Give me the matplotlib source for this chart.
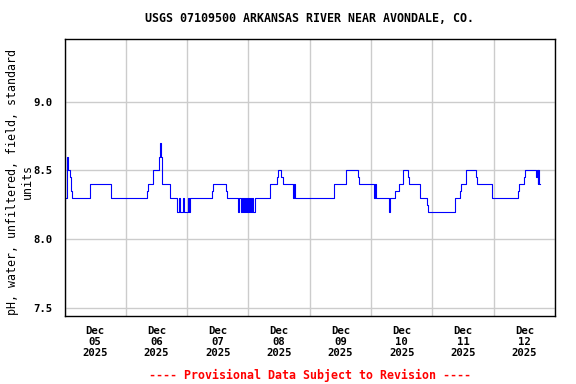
import matplotlib
matplotlib.use("Agg")
import matplotlib.pyplot as plt
import matplotlib.dates as mdates
import pandas as pd

# pH readings: hours after Dec 05 2025 00:00 where the value changes, and the value from then on
hours = [0.0, 1.0, 1.5, 2.0, 2.4, 2.8, 10.1, 18.2, 32.4, 32.8, 34.8, 37.1, 37.5, 37.9, 38.3,
         41.3, 44.0, 44.9, 45.4, 46.5, 46.9, 48.3, 48.7, 49.2, 57.7, 58.1, 63.3, 63.7,
         68.1, 68.5, 68.9, 69.3, 69.7, 70.1, 70.5, 70.9, 71.3, 71.7, 72.1, 72.5, 72.9,
         73.3, 73.7, 74.4, 80.5, 83.0, 83.4, 84.9, 85.5, 89.6, 90.0, 90.4, 105.3, 110.0,
         114.7, 115.1, 121.0, 121.4, 121.8, 126.9, 127.3, 129.5, 130.8, 132.7, 134.3,
         134.7, 139.3, 141.9, 142.3, 152.7, 154.7, 155.1, 157.0, 160.9, 161.3, 167.2,
         177.4, 177.8, 179.8, 180.2, 184.7, 185.1, 185.3, 185.5, 185.9, 186.1]
ph = [8.3, 8.6, 8.5, 8.45, 8.35, 8.3, 8.4, 8.3, 8.35, 8.4, 8.5, 8.6, 8.7, 8.6, 8.4,
      8.3, 8.2, 8.3, 8.2, 8.3, 8.2, 8.3, 8.2, 8.3, 8.35, 8.4, 8.35, 8.3,
      8.2, 8.3, 8.2, 8.3, 8.2, 8.3, 8.2, 8.3, 8.2, 8.3, 8.2, 8.3, 8.2,
      8.3, 8.2, 8.3, 8.4, 8.45, 8.5, 8.45, 8.4, 8.3, 8.4, 8.3, 8.4, 8.5,
      8.45, 8.4, 8.3, 8.4, 8.3, 8.2, 8.3, 8.35, 8.4, 8.5, 8.45,
      8.4, 8.3, 8.25, 8.2, 8.3, 8.35, 8.4, 8.5, 8.45, 8.4, 8.3,
      8.35, 8.4, 8.45, 8.5, 8.45, 8.5, 8.4, 8.5, 8.4, 8.4]

yticks = [7.5, 8.0, 8.5, 9.0]
start = pd.Timestamp("2025-12-05")
end = pd.Timestamp("2025-12-13")

times = start + pd.to_timedelta(hours, unit="h")

plt.rcParams["font.family"] = "DejaVu Sans Mono"
plt.rcParams["font.weight"] = "bold"

fig = plt.figure(figsize=(5.76, 3.84), dpi=100)
ax = fig.add_axes([0.112, 0.177, 0.8515, 0.7207])

ax.step(times, ph, where="post", color="#0000ff", linewidth=0.8)

ax.set_xlim(start, end)
ax.set_ylim(7.44, 9.454)
ax.set_yticks(yticks)
ax.set_yticklabels(["%.1f" % v for v in yticks], fontsize=7.7)

# gridlines at midnight, labels at noon
ax.xaxis.set_major_locator(mdates.DayLocator())
ax.xaxis.set_major_formatter(plt.NullFormatter())
ax.xaxis.set_minor_locator(mdates.HourLocator(byhour=[12]))
ax.xaxis.set_minor_formatter(mdates.DateFormatter("%b\n%d\n%Y"))
ax.tick_params(axis="x", which="both", length=0, pad=7, labelsize=7.7)
ax.tick_params(axis="y", length=0, pad=9)
for lab in ax.xaxis.get_minorticklabels():
    lab.set_linespacing(1.15)

ax.grid(True, which="major", color="#cccccc", linewidth=1.0)
ax.set_axisbelow(True)
for s in ax.spines.values():
    s.set_linewidth(1.0)

ax.set_ylabel("pH, water, unfiltered, field, standard\nunits", fontsize=8.4,
              linespacing=1.2)
ax.yaxis.set_label_coords(-0.063, 0.485)

fig.text(0.538, 0.953, "USGS 07109500 ARKANSAS RIVER NEAR AVONDALE, CO.",
         ha="center", va="center", fontsize=8.4)
fig.text(0.538, 0.023, "---- Provisional Data Subject to Revision ----",
         ha="center", va="center", fontsize=8.4, color="red")

fig.savefig("out.png", dpi=100)
